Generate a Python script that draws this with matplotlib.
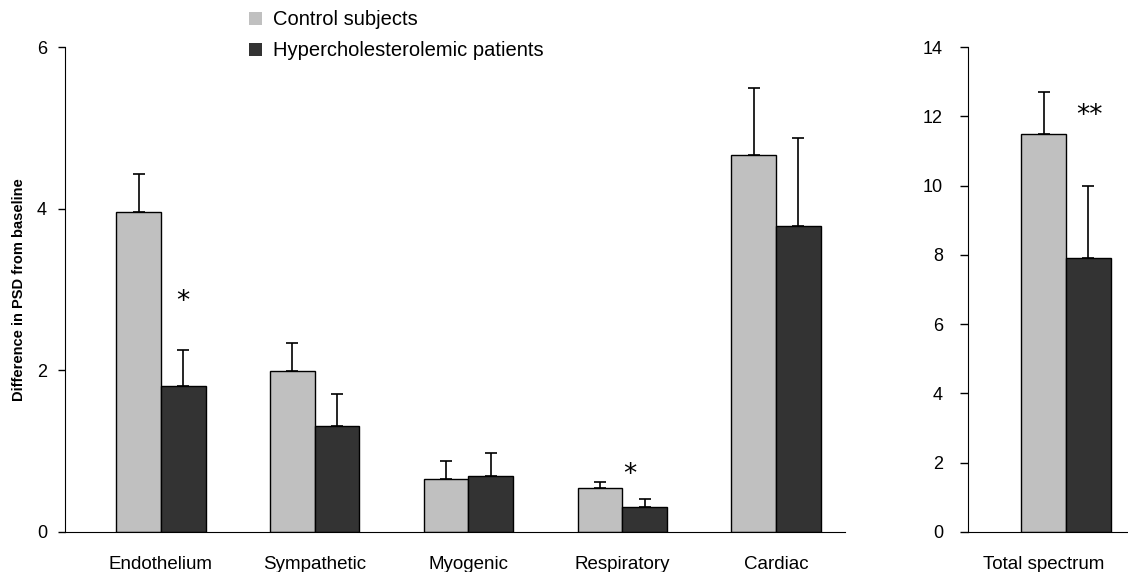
import matplotlib.pyplot as plt
import matplotlib.transforms as mtransforms
import numpy as np
from matplotlib.patches import Patch

plt.rcParams["font.family"] = ["Liberation Sans", "DejaVu Sans"]

# data
regions = ["Endothelium", "Sympathetic", "Myogenic", "Respiratory", "Cardiac"]
control = [3.96, 1.99, 0.66, 0.54, 4.66]
control_err = [0.47, 0.35, 0.22, 0.08, 0.83]
patients = [1.81, 1.31, 0.69, 0.31, 3.79]
patients_err = [0.44, 0.40, 0.29, 0.10, 1.09]
stars = ["*", "", "", "*", ""]
star_y = [2.85, 0, 0, 0.71, 0]

total_label = ["Total spectrum"]
total_control = [11.49]
total_control_err = [1.21]
total_patients = [7.91]
total_patients_err = [2.08]
total_star = "**"
total_star_y = 12.0

light = "#c0c0c0"
dark = "#333333"
w = 0.29

fig = plt.figure(figsize=(11.28, 5.72), dpi=100)
ax = fig.add_axes([65/1128, 1-532/572, 780/1128, 485/572])
ax2 = fig.add_axes([968/1128, 1-532/572, 160/1128, 485/572])

x = np.arange(len(regions))
ax.bar(x - w/2, control, w, color=light, edgecolor="black", linewidth=1)
ax.bar(x + w/2, patients, w, color=dark, edgecolor="black", linewidth=1)
ekw = dict(fmt="none", ecolor="black", elinewidth=1.2, capsize=4, capthick=1.2)
ax.errorbar(x - w/2, control, yerr=[np.zeros(5), control_err], **ekw)
ax.errorbar(x + w/2, patients, yerr=[np.zeros(5), patients_err], **ekw)
for i, s in enumerate(stars):
    if s:
        xs = i + w/2 if i == 0 else i + 0.05
        ax.text(xs, star_y[i], s, ha="center", va="center", fontsize=19,
                family="DejaVu Sans", color="black")

ax.set_xlim(-0.624, 4.449)
ax.set_ylim(0, 6)
ax.set_yticks([0, 2, 4, 6])
ax.set_xticks(x)
ax.set_xticklabels(regions, fontsize=13.5)
ax.tick_params(axis="x", length=0, pad=17)
ax.tick_params(axis="y", length=5, width=1, labelsize=13, pad=8)
ax.spines[["top", "right"]].set_visible(False)
ax.set_ylabel("Difference in PSD from baseline", fontsize=10.5,
              fontweight="bold", labelpad=8)

x2 = np.arange(len(total_label))
ax2.bar(x2 - w/2, total_control, w, color=light, edgecolor="black", linewidth=1)
ax2.bar(x2 + w/2, total_patients, w, color=dark, edgecolor="black", linewidth=1)
ax2.errorbar(x2 - w/2, total_control, yerr=[[0], total_control_err], **ekw)
ax2.errorbar(x2 + w/2, total_patients, yerr=[[0], total_patients_err], **ekw)
ax2.text(w/2 + 0.01, total_star_y, total_star, ha="center", va="center",
         fontsize=19, family="DejaVu Sans", color="black")
ax2.set_xlim(-0.637, 0.403)
ax2.set_ylim(0, 14)
ax2.set_yticks(range(0, 15, 2))
ax2.set_xticks(x2)
ax2.set_xticklabels(total_label, fontsize=13.5)
ax2.tick_params(axis="x", length=0, pad=17)
ax2.tick_params(axis="y", length=6, width=1, labelsize=13, pad=12)
ax2.spines[["top", "right"]].set_visible(False)
# the reference's label sits left of the bar pair
shift = mtransforms.ScaledTranslation(-22/100, 0, fig.dpi_scale_trans)
for lab in ax2.get_xticklabels():
    lab.set_transform(lab.get_transform() + shift)

handles = [Patch(facecolor=light, edgecolor="none"),
           Patch(facecolor=dark, edgecolor="none")]
fig.legend(handles, ["Control subjects", "Hypercholesterolemic patients"],
           loc="upper left", bbox_to_anchor=(231/1128, 1.014), frameon=False,
           fontsize=14.5, handlelength=0.62, handleheight=0.62,
           handletextpad=0.55, labelspacing=0.6)

fig.savefig("out.png", dpi=100)
